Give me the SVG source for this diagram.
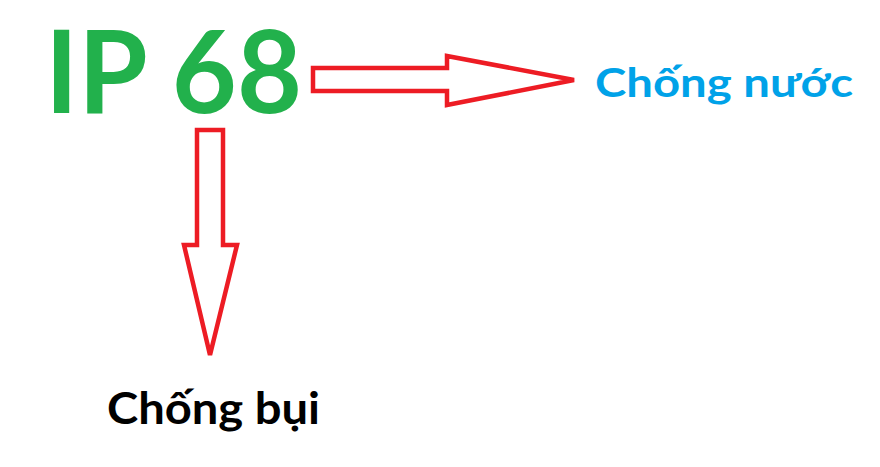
<svg xmlns="http://www.w3.org/2000/svg" width="880" height="467" viewBox="0 0 880 467">
<style>
.t{font-family:Lato,"Open Sans","Liberation Sans",sans-serif;font-weight:bold}
.arr{fill:none;stroke:#ED1C24;stroke-width:4.5;stroke-linejoin:miter}
</style>
<rect width="880" height="467" fill="#fff"/>
<g id="ip68"><text class="t" x="45" y="113" font-size="114" fill="#22B14C" textLength="257" lengthAdjust="spacingAndGlyphs">IP 68</text></g>
<g id="chong-nuoc"><text class="t" x="595" y="97" font-size="41" fill="#00A2E8" textLength="258" lengthAdjust="spacingAndGlyphs">Chống nước</text></g>
<g id="chong-bui"><text class="t" x="107" y="424" font-size="43" fill="#000" textLength="213" lengthAdjust="spacingAndGlyphs">Chống bụi</text></g>
<g id="connectors">
<path class="arr" d="M313,68 L447,68 L447,56 L574,80 L447,105 L447,91 L313,91 Z"/>
<path class="arr" d="M197,130 L223,130 L223,245 L237,245 L210,355 L184,245 L197,245 Z"/>
</g>
</svg>
